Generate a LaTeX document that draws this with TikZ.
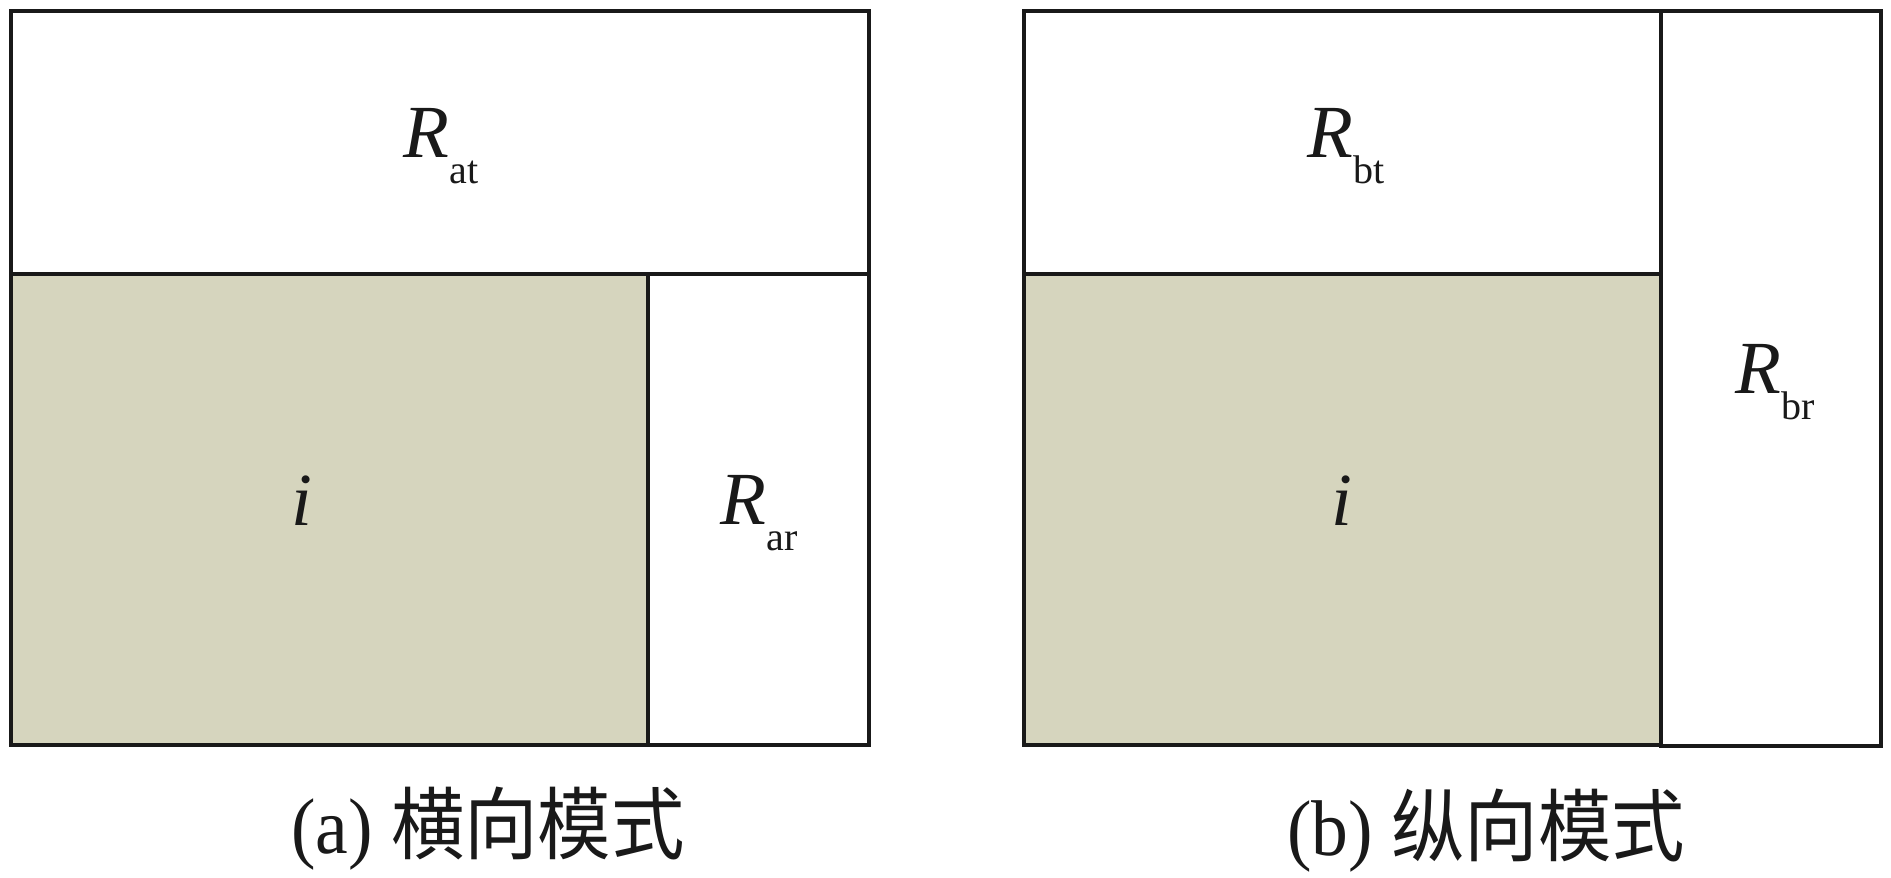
\documentclass[tikz,border=0pt]{standalone}
\usepackage{fontspec}
\setmainfont{Liberation Serif}
\newfontfamily\tnr{Liberation Serif}
\newfontfamily\cjkfont{Noto Sans CJK SC}
\definecolor{inkline}{RGB}{25,25,25}
\definecolor{cellfill}{RGB}{214,213,190}
\newcommand\sublabel[2]{{\tnr\fontsize{75}{75}\selectfont\itshape #1}\raisebox{-26pt}{\tnr\fontsize{40}{40}\selectfont #2}}
\newcommand\caplabel[2]{\scalebox{0.93}[1]{\tnr\fontsize{79}{79}\selectfont #1\ {\cjkfont #2}}}
\begin{document}
\begin{tikzpicture}[x=1pt,y=-1pt,
  cellline/.style={draw=inkline,line width=4pt,line cap=rect,line join=miter},
  shaded/.style={fill=cellfill},
  lbl/.style={inner sep=0pt,anchor=base,text=inkline},
  caption/.style={inner sep=0pt,anchor=base,text=inkline}]
\useasboundingbox (0,0) rectangle (1891,878);
\fill[white] (0,0) rectangle (1891,878);
% ---- panel (a) ----
\fill[shaded] (11,274) rectangle (648,745);
\draw[cellline] (11,11) rectangle (869,745);
\draw[cellline] (11,274) -- (869,274);
\draw[cellline] (648,274) -- (648,745);
\node[lbl] (rat) at (441,157) {\sublabel{R}{at}};
\node[lbl] (ia) at (302,525) {{\tnr\fontsize{75}{75}\selectfont\itshape i}};
\node[lbl] (rar) at (759,524) {\sublabel{R}{ar}};
\node[caption] (capa) at (488,853) {\caplabel{(a)}{横向模式}};
% ---- panel (b) ----
\fill[shaded] (1024,274) rectangle (1661,745);
\draw[cellline] (1024,11) rectangle (1661,745);
\draw[cellline] (1024,274) -- (1661,274);
\draw[cellline] (1661,11) rectangle (1881,746);
\node[lbl] (rbt) at (1346,157) {\sublabel{R}{bt}};
\node[lbl] (ib) at (1342,525) {{\tnr\fontsize{75}{75}\selectfont\itshape i}};
\node[lbl] (rbr) at (1775,393) {\sublabel{R}{br}};
\node[caption] (capb) at (1486,855) {\caplabel{(b)}{纵向模式}};
\end{tikzpicture}
\end{document}
